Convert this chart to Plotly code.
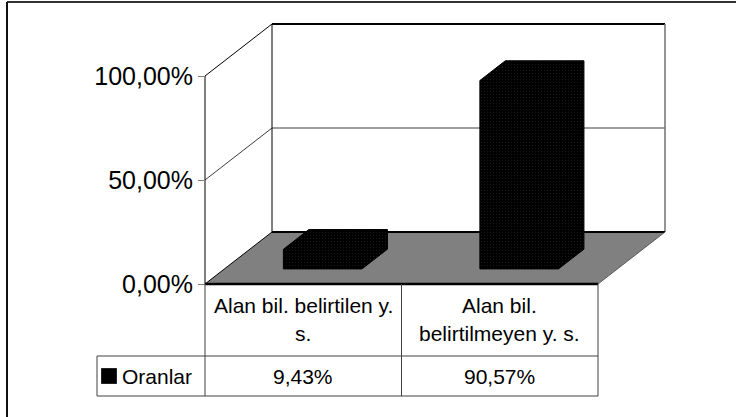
import plotly.graph_objects as go

# ---- data -------------------------------------------------------------
categories = ["Alan bil. belirtilen y. s.", "Alan bil. belirtilmeyen y. s."]
category_lines = [["Alan bil. belirtilen y.", "s."],
                  ["Alan bil.", "belirtilmeyen y. s."]]
series_name = "Oranlar"
oranlar = [0.0943, 0.9057]
y_ticks = [0.0, 0.5, 1.0]

# ---- geometry of the pseudo-3D frame ---------------------------------
W, H = 736, 417
PX0, PY0 = 205, 284          # front-left floor corner (px)
UNIT_X = 196.5               # px per category
UNIT_Y = 208.0               # px per 100 %
DEPTH_X = 67 / UNIT_X        # depth offset in category units
DEPTH_Y = 52 / UNIT_Y        # depth offset in value units
BAR_D0, BAR_D1 = 0.29, 0.67  # bar front / back depth (fraction of floor)
BAR_W = 0.40                 # bar width (category units)
N = len(categories)

FONT = "Liberation Sans, Arial, sans-serif"


def proj(x, z, d):
    """Oblique projection of (category x, value z, depth d) to axis coords."""
    return x + d * DEPTH_X, z + d * DEPTH_Y


def py(p):
    """Pixel row -> paper fraction."""
    return 1 - p / H


def px_to_x(p):
    return (p - PX0) / UNIT_X


fig = go.Figure()


def polygon(pts, fill, line_color=None, width=0, pattern=None):
    xs, ys = zip(*[proj(*p) for p in pts + [pts[0]]])
    kw = dict(x=xs, y=ys, mode="lines", fill="toself", fillcolor=fill,
              line=dict(color=line_color or fill, width=width),
              hoverinfo="skip", showlegend=False)
    if pattern:
        kw["fillpattern"] = pattern
    fig.add_trace(go.Scatter(**kw))


def segment(pts, color, width):
    xs, ys = zip(*[proj(*p) for p in pts])
    fig.add_trace(go.Scatter(x=xs, y=ys, mode="lines",
                             line=dict(color=color, width=width),
                             hoverinfo="skip", showlegend=False))


top = max(y_ticks)
# walls
polygon([(0, 0, 1), (N, 0, 1), (N, top, 1), (0, top, 1)], "white")
polygon([(0, 0, 0), (0, top, 0), (0, top, 1), (0, 0, 1)], "white")
# gridlines on left and back walls
for t in y_ticks[1:-1]:
    segment([(0, t, 0), (0, t, 1), (N, t, 1)], "#3c3c3c", 1)
# wall edges
segment([(0, top, 1), (N, top, 1)], "black", 2)
segment([(N, 0, 1), (N, top, 1)], "#707070", 1.5)
segment([(0, 0, 1), (0, top, 1)], "black", 1)
segment([(0, top, 0), (0, top, 1)], "black", 1)
segment([(0, 0, 0), (0, top, 0)], "black", 1)
# floor
polygon([(0, 0, 0), (N, 0, 0), (N, 0, 1), (0, 0, 1)], "#808080")
segment([(0, 0, 1), (N, 0, 1)], "black", 2)
segment([(0, 0, 0), (0, 0, 1)], "black", 1)
segment([(N, 0, 0), (N, 0, 1)], "#5a5a5a", 1)
segment([(0, 0, 0), (N, 0, 0)], "black", 2.5)

# bars
bar_pattern = dict(shape=".", fgcolor="#3a3a3a", bgcolor="#000000",
                   size=3, solidity=0.12)
for i, v in enumerate(oranlar):
    x0 = i + 0.5 - BAR_W / 2
    x1 = i + 0.5 + BAR_W / 2
    pts = [(x0, 0, BAR_D0), (x0, v, BAR_D0), (x0, v, BAR_D1),
           (x1, v, BAR_D1), (x1, 0, BAR_D1), (x1, 0, BAR_D0)]
    polygon(pts, "#000000", "black", 1, pattern=bar_pattern)

# ---- data table -------------------------------------------------------
TABLE_TOP, ROW_SPLIT, TABLE_BOTTOM = 284, 356, 396
HEAD_LINES = [305, 333]      # text rows inside the category cell (px)
LEGEND_LEFT = px_to_x(97)
GRID = "#404040"
shapes = []
for xc in range(N + 1):
    shapes.append(dict(type="line", xref="x", yref="paper", x0=xc, x1=xc,
                       y0=py(TABLE_TOP), y1=py(TABLE_BOTTOM),
                       line=dict(color=GRID, width=1)))
for r in (ROW_SPLIT, TABLE_BOTTOM):
    shapes.append(dict(type="line", xref="x", yref="paper", x0=LEGEND_LEFT,
                       x1=N, y0=py(r), y1=py(r),
                       line=dict(color=GRID, width=1)))
shapes.append(dict(type="line", xref="x", yref="paper", x0=LEGEND_LEFT,
                   x1=LEGEND_LEFT, y0=py(ROW_SPLIT), y1=py(TABLE_BOTTOM),
                   line=dict(color=GRID, width=1)))
# outer chart frame
shapes.append(dict(type="line", xref="paper", yref="paper", x0=7 / W,
                   x1=1, y0=py(2), y1=py(2), line=dict(color="#333333", width=2)))
shapes.append(dict(type="line", xref="paper", yref="paper", x0=7 / W, x1=7 / W,
                   y0=py(2), y1=0, line=dict(color="#111111", width=2)))

annotations = []
row_mid = (ROW_SPLIT + TABLE_BOTTOM) / 2
for i, lines in enumerate(category_lines):
    for line_text, ly in zip(lines, HEAD_LINES):
        annotations.append(dict(x=i + 0.5, y=py(ly), xref="x", yref="paper",
                                text=line_text, showarrow=False,
                                font=dict(family=FONT, size=21, color="black"),
                                xanchor="center", yanchor="middle"))
for i, v in enumerate(oranlar):
    label = f"{v * 100:.2f}%".replace(".", ",")
    annotations.append(dict(x=i + 0.5, y=py(row_mid), xref="x", yref="paper",
                            text=label, showarrow=False,
                            font=dict(family=FONT, size=21, color="black"),
                            xanchor="center", yanchor="middle"))
annotations.append(dict(x=px_to_x(120), y=py(row_mid), xref="x", yref="paper",
                        text=series_name, showarrow=False,
                        font=dict(family=FONT, size=21, color="black"),
                        xanchor="left", yanchor="middle"))

# legend key
fig.add_trace(go.Scatter(x=[px_to_x(109)], y=[-(row_mid - PY0) / UNIT_Y],
                         mode="markers", hoverinfo="skip", showlegend=False,
                         marker=dict(symbol="square", size=15, color="black",
                                     line=dict(color="#222", width=1))))

fig.update_layout(
    width=W, height=H, autosize=False,
    margin=dict(l=0, r=0, t=0, b=0, pad=0),
    paper_bgcolor="white", plot_bgcolor="white",
    separators=",.",
    showlegend=False,
    shapes=shapes, annotations=annotations,
    xaxis=dict(range=[-PX0 / UNIT_X, (W - PX0) / UNIT_X], visible=False,
               fixedrange=True),
    yaxis=dict(range=[-(H - PY0) / UNIT_Y, PY0 / UNIT_Y],
               tickvals=y_ticks, tickformat=".2%",
               ticks="outside", ticklen=7, tickcolor="#808080", tickwidth=1,
               tickfont=dict(family=FONT, size=25, color="black"),
               anchor="free", position=PX0 / W,
               showline=False, showgrid=False, zeroline=False,
               fixedrange=True),
)

fig.write_html("out.html")
